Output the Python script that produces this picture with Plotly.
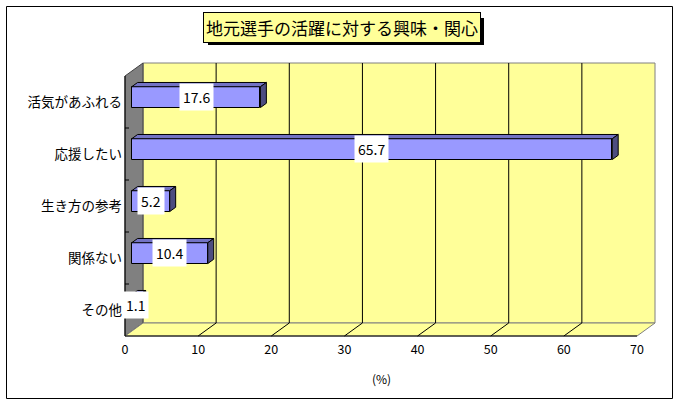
import plotly.graph_objects as go

# ---------------- data ----------------
categories = ["活気があふれる", "応援したい", "生き方の参考", "関係ない", "その他"]
values = [17.6, 65.7, 5.2, 10.4, 1.1]
x_ticks = [0, 10, 20, 30, 40, 50, 60, 70]
title_text = "地元選手の活躍に対する興味・関心"
x_title = "(%)"

# ---------------- geometry / style ----------------
W, H = 680, 406
FONT = "Noto Sans CJK JP"
PX_PER_X = 512 / 70
PX_PER_Y = 52
X0_PX = 125
Y0_PX = 102
PLOT_L, PLOT_R, PLOT_T, PLOT_B = 123, 662, 55, 340

XMAX = x_ticks[-1]
n = len(categories)
DX = 18 / PX_PER_X
DY = -13 / PX_PER_Y
y_lo, y_hi = -0.5, n - 0.5
F1 = 6.7 / 18      # depth position of bar front face
BD = 0.33          # bar depth fraction
BAR_W = 0.4

WALL = "#FFFF99"
SIDE = "#808080"
BAR_FRONT = "#9999FF"
BAR_TOP = "#7373C4"
BAR_SIDE = "#4D4D80"


def xr(px):
    return (px - X0_PX) / PX_PER_X


def yr(px):
    return (px - Y0_PX) / PX_PER_Y


def pxp(px):
    return (px - PLOT_L) / (PLOT_R - PLOT_L)


def pyp(py):
    return (PLOT_B - py) / (PLOT_B - PLOT_T)


def path(pts):
    return "M " + " L ".join(f"{x},{y}" for x, y in pts) + " Z"


shapes = []
# back wall
shapes.append(dict(type="rect", xref="x", yref="y", layer="below",
                   x0=DX, x1=XMAX + DX, y0=y_lo + DY, y1=y_hi + DY,
                   fillcolor=WALL, line=dict(color=SIDE, width=1)))
# left wall
shapes.append(dict(type="path", xref="x", yref="y", layer="below",
                   path=path([(0, y_lo), (DX, y_lo + DY), (DX, y_hi + DY), (0, y_hi)]),
                   fillcolor=SIDE, line=dict(color="#404040", width=1)))
# floor
shapes.append(dict(type="path", xref="x", yref="y", layer="below",
                   path=path([(0, y_hi), (XMAX, y_hi), (XMAX + DX, y_hi + DY), (DX, y_hi + DY)]),
                   fillcolor=WALL, line=dict(color=SIDE, width=1)))
# gridlines
for k in x_ticks[1:-1]:
    shapes.append(dict(type="line", xref="x", yref="y", layer="below",
                       x0=k + DX, x1=k + DX, y0=y_lo + DY, y1=y_hi + DY,
                       line=dict(color="black", width=1)))
    shapes.append(dict(type="line", xref="x", yref="y", layer="below",
                       x0=k, x1=k + DX, y0=y_hi, y1=y_hi + DY,
                       line=dict(color="black", width=1)))
# axis lines
shapes.append(dict(type="line", xref="x", yref="y", layer="below",
                   x0=0, x1=0, y0=y_lo, y1=y_hi, line=dict(color="black", width=1)))
shapes.append(dict(type="line", xref="x", yref="y", layer="below",
                   x0=0, x1=XMAX, y0=y_hi, y1=y_hi, line=dict(color="black", width=1)))
for i in range(n - 1):
    shapes.append(dict(type="line", xref="x", yref="y", layer="below",
                       x0=0, x1=0.55, y0=i + 0.5, y1=i + 0.5,
                       line=dict(color="black", width=1)))
# outer border
shapes.append(dict(type="rect", xref="paper", yref="paper", layer="above",
                   x0=pxp(6.5), x1=pxp(672.5), y0=pyp(398.5), y1=pyp(6.5),
                   line=dict(color="black", width=1), fillcolor="rgba(0,0,0,0)"))
# title shadow
shapes.append(dict(type="rect", xref="paper", yref="paper", layer="above",
                   x0=pxp(208), x1=pxp(484), y0=pyp(45), y1=pyp(18),
                   line=dict(color="black", width=0), fillcolor="black"))

fig = go.Figure()

bar_y = [i + F1 * DY for i in range(n)]
base0 = F1 * DX
fig.add_trace(go.Bar(
    y=bar_y, x=values, base=base0, orientation="h", width=BAR_W,
    marker=dict(color=BAR_FRONT, line=dict(color="black", width=1)),
    showlegend=False, hoverinfo="skip"))

ddx, ddy = BD * DX, BD * DY
top_x, top_y, side_x, side_y = [], [], [], []
for yc, v in zip(bar_y, values):
    yt, yb = yc - BAR_W / 2, yc + BAR_W / 2
    x0, x1 = base0, base0 + v
    top_x += [x0, x1, x1 + ddx, x0 + ddx, x0, None]
    top_y += [yt, yt, yt + ddy, yt + ddy, yt, None]
    side_x += [x1, x1, x1 + ddx, x1 + ddx, x1, None]
    side_y += [yt, yb, yb + ddy, yt + ddy, yt, None]
fig.add_trace(go.Scatter(x=top_x, y=top_y, mode="lines", fill="toself",
                         fillcolor=BAR_TOP, line=dict(color="black", width=1),
                         showlegend=False, hoverinfo="skip"))
fig.add_trace(go.Scatter(x=side_x, y=side_y, mode="lines", fill="toself",
                         fillcolor=BAR_SIDE, line=dict(color="black", width=1),
                         showlegend=False, hoverinfo="skip"))

annotations = []
for yc, v in zip(bar_y, values):
    annotations.append(dict(x=base0 + v / 2, y=yc, xref="x", yref="y",
                            xanchor="center", yanchor="middle",
                            text=f"{v}", showarrow=False, bgcolor="white",
                            borderpad=3, font=dict(family=FONT, size=14, color="black")))

# title
annotations.append(dict(x=pxp(341.5), y=pyp(27.5), xref="paper", yref="paper",
                        xanchor="center", yanchor="middle", text=title_text,
                        showarrow=False, bgcolor=WALL,
                        bordercolor="black", borderwidth=1, borderpad=2,
                        font=dict(family=FONT, size=17, color="black")))
annotations.append(dict(x=pxp(381), y=pyp(378), xref="paper", yref="paper",
                        xanchor="center", yanchor="middle",
                        text=x_title, showarrow=False,
                        font=dict(family=FONT, size=12, color="black")))

fig.update_layout(
    width=W, height=H,
    margin=dict(l=PLOT_L, r=W - PLOT_R, t=PLOT_T, b=H - PLOT_B, autoexpand=False),
    paper_bgcolor="white", plot_bgcolor="rgba(0,0,0,0)",
    font=dict(family=FONT, color="black"),
    shapes=shapes, annotations=annotations,
    xaxis=dict(range=[xr(PLOT_L), xr(PLOT_R)], tickvals=x_ticks,
               ticktext=[str(t) for t in x_ticks], showgrid=False, zeroline=False,
               showline=False, ticks="", tickfont=dict(size=12.5), automargin=False,
               fixedrange=True),
    yaxis=dict(range=[yr(PLOT_B), yr(PLOT_T)], tickvals=list(range(n)),
               ticktext=categories, showgrid=False, zeroline=False, showline=False,
               ticks="", tickfont=dict(size=13.5), automargin=False, fixedrange=True),
    bargap=0,
)

fig.write_html(
    "out.html",
    config={"displayModeBar": False},
    post_script="document.body.style.margin='0';document.documentElement.style.margin='0';"
                "document.body.style.overflow='hidden';",
)
